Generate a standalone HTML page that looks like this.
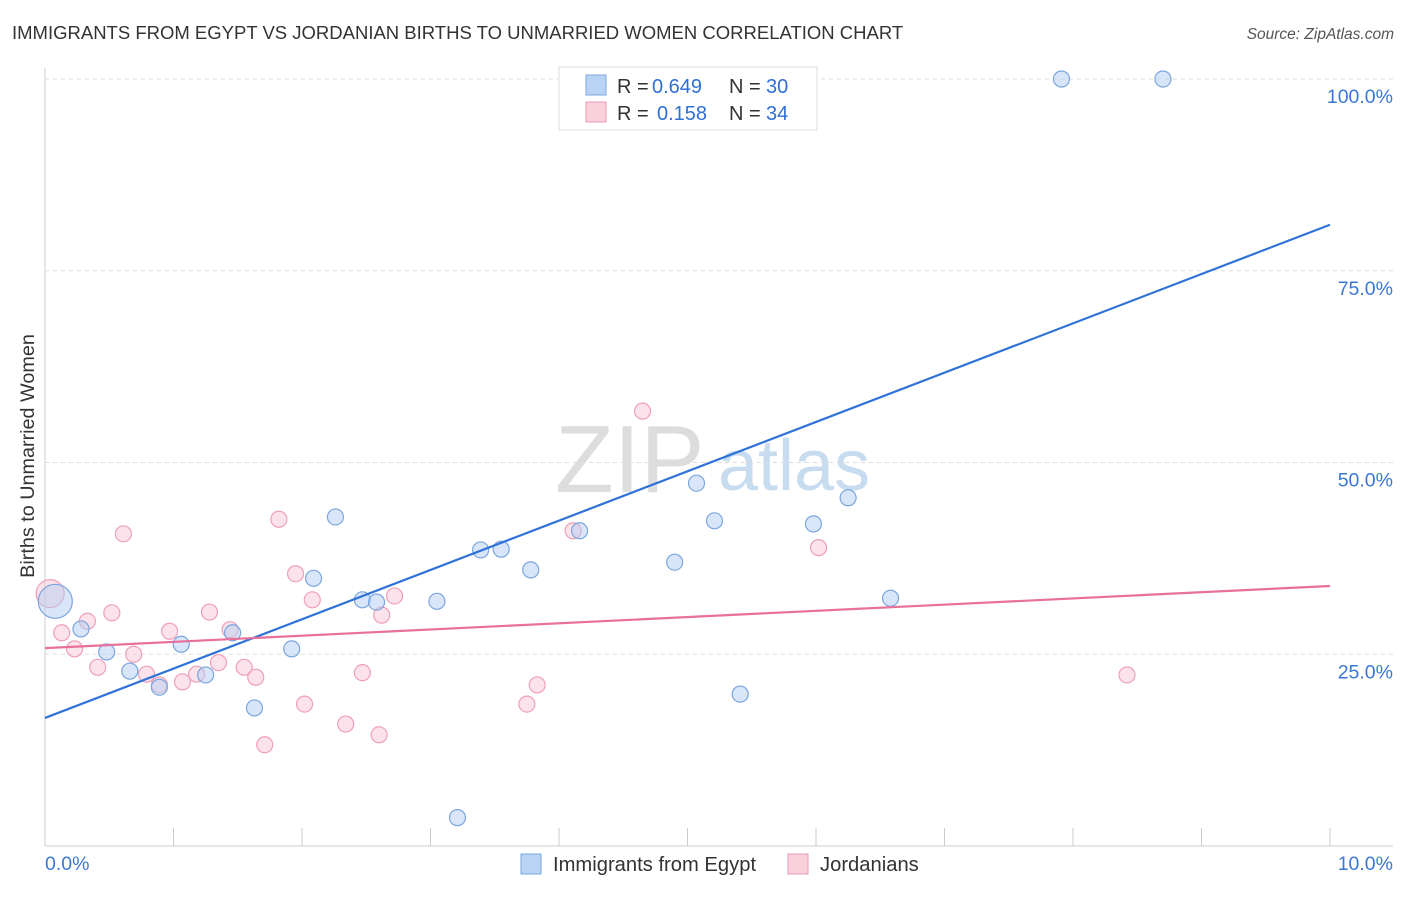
<!DOCTYPE html>
<html><head><meta charset="utf-8"><style>
body{margin:0;background:#fff;font-family:"Liberation Sans",sans-serif}
svg text{font-family:"Liberation Sans",sans-serif}
</style></head><body>
<svg id="c" width="1406" height="892" xmlns="http://www.w3.org/2000/svg">
<text x="12" y="39" font-size="18.5" fill="#333">IMMIGRANTS FROM EGYPT VS JORDANIAN BIRTHS TO UNMARRIED WOMEN CORRELATION CHART</text>
<text x="1394" y="39" font-size="15.5" fill="#555" text-anchor="end" font-style="italic">Source: ZipAtlas.com</text>
<text x="34" y="456" font-size="19.8" fill="#333" text-anchor="middle" transform="rotate(-90 34 456)">Births to Unmarried Women</text>
<g><text x="555" y="492" font-size="96" font-family="Liberation Serif" fill="#ddd">ZIP</text><text x="718" y="490" font-size="72" fill="#c8dcf0">atlas</text></g>
<g id="grid"></g><g id="marks"></g>
<g>
<rect x="559" y="67" width="258" height="63" fill="#fff" stroke="#ddd"/>
<rect x="586" y="75" width="20" height="20" fill="#b9d3f5" stroke="#7aa7e0"/>
<text x="617" y="93" font-size="20" fill="#333">R =</text>
<text x="652" y="93" font-size="20" fill="#2f6fd6">0.649</text>
<text x="729" y="93" font-size="20" fill="#333">N =</text>
<text x="766" y="93" font-size="20" fill="#2f6fd6">30</text>
<rect x="586" y="102" width="20" height="20" fill="#fbd0dd" stroke="#ee9ab3"/>
<text x="617" y="120" font-size="20" fill="#333">R =</text>
<text x="657" y="120" font-size="20" fill="#2f6fd6">0.158</text>
<text x="729" y="120" font-size="20" fill="#333">N =</text>
<text x="766" y="120" font-size="20" fill="#2f6fd6">34</text>
</g>
<g>
<rect x="521" y="854" width="20" height="20" fill="#b9d3f5" stroke="#7aa7e0"/>
<text x="553" y="871" font-size="20.2" fill="#333">Immigrants from Egypt</text>
<rect x="788" y="854" width="20" height="20" fill="#fbd0dd" stroke="#ee9ab3"/>
<text x="820" y="871" font-size="20.2" fill="#333">Jordanians</text>
</g>
</svg>
<script>
const xTicks=[0,1,2,3,4,5,6,7,8,9,10];
const yTicks=[25,50,75,100];
const blueX=[0.08,0.28,0.48,0.66,0.89,1.06,1.25,1.46,1.63,1.92,2.09,2.26,2.47,2.58,3.05,3.21,3.39,3.55,3.78,4.16,4.90,5.07,5.21,5.41,5.98,6.25,6.58,7.91,8.70];
const blueY=[31.9,28.3,25.3,22.8,20.7,26.3,22.3,27.8,18.0,25.7,34.9,42.9,32.1,31.8,31.9,3.7,38.6,38.7,36.0,41.1,37.0,47.3,42.4,19.8,42.0,45.4,32.3,100,100];
const pinkX=[0.04,0.13,0.23,0.33,0.41,0.52,0.61,0.69,0.79,0.89,0.97,1.07,1.18,1.28,1.35,1.44,1.55,1.64,1.71,1.82,1.95,2.02,2.08,2.34,2.47,2.60,2.62,2.72,3.75,3.83,4.11,4.65,6.02,8.42];
const pinkY=[32.9,27.8,25.7,29.3,23.3,30.4,40.7,25.0,22.4,21.0,28.0,21.4,22.4,30.5,23.9,28.2,23.3,22.0,13.2,42.6,35.5,18.5,32.1,15.9,22.6,14.5,30.1,32.6,18.5,21.0,41.1,56.7,38.9,22.3];
const blueLine=[16.7,81.0];
const pinkLine=[25.8,33.9];
const NS="http://www.w3.org/2000/svg";
const sx=v=>45+v*128.5, sy=v=>846-v*7.67;
function mk(t,a,p){const e=document.createElementNS(NS,t);for(const k in a)e.setAttribute(k,a[k]);p.appendChild(e);return e;}
const g=document.getElementById('grid'),m=document.getElementById('marks');
let ax=mk('line',{x1:45,y1:68,x2:45,y2:846,stroke:'#ccc'},g);


let bx=mk('line',{x1:45,y1:846,x2:1393,y2:846,stroke:'#ccc'},g);


yTicks.forEach(v=>{
 const l=mk('line',{x1:45,y1:sy(v),x2:1393,y2:sy(v),stroke:'#ddd','stroke-dasharray':'4,4'},g);
 
 
 const t=mk('text',{x:1393,y:sy(v)+24,'font-size':19.5,fill:'#3b78d6','text-anchor':'end'},g);
 t.textContent=v.toFixed(1)+'%';
 
 
});
xTicks.forEach(v=>{
 const l=mk('line',{x1:sx(v),y1:828,x2:sx(v),y2:846,stroke:'#ccc'},g);
 
 
});
[[0,'0.0%','start',45],[10,'10.0%','end',1393]].forEach(a=>{
 const t=mk('text',{x:a[3],y:870,'font-size':19.5,fill:'#3b78d6','text-anchor':a[2]},g);
 t.textContent=a[1];
 
 
});
pinkX.forEach((x,i)=>{
 const c=mk('circle',{cx:sx(x),cy:sy(pinkY[i]),r:i==0?14:8,fill:'rgba(248,190,208,0.45)',stroke:'#eea0b8','stroke-width':1.2},m);
 
 
});
blueX.forEach((x,i)=>{
 const c=mk('circle',{cx:sx(x),cy:sy(blueY[i]),r:i==0?17:8,fill:'rgba(180,206,243,0.5)',stroke:'#7ba6de','stroke-width':1.2},m);
 
 
});
const bl=mk('line',{x1:sx(0),y1:sy(blueLine[0]),x2:sx(10),y2:sy(blueLine[1]),stroke:'#2f73d8','stroke-width':2.2},m);


const pl=mk('line',{x1:sx(0),y1:sy(pinkLine[0]),x2:sx(10),y2:sy(pinkLine[1]),stroke:'#e8709a','stroke-width':2.2},m);


</script>
</body></html>
